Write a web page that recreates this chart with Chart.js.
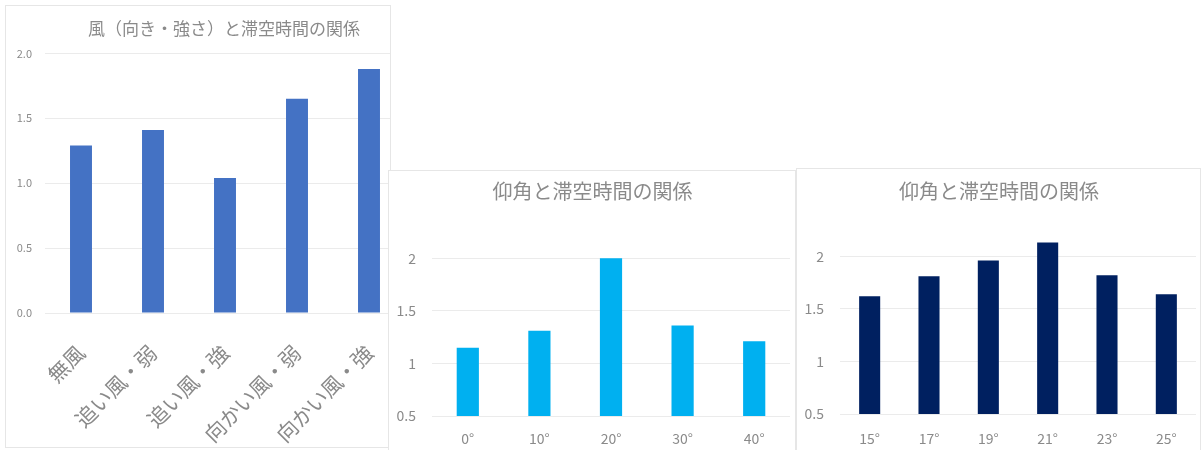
<!DOCTYPE html>
<html>
<head>
<meta charset="utf-8">
<script src="https://cdn.jsdelivr.net/npm/chart.js@4/dist/chart.umd.min.js"></script>
<style>
  html, body { margin: 0; padding: 0; background: #ffffff; }
  body { width: 1202px; height: 450px; position: relative; overflow: hidden; }
  .box { position: absolute; background: #ffffff; border: 1px solid #e6e6e6; box-sizing: border-box; overflow: hidden; }
  canvas { position: absolute; left: 0; top: 0; }
</style>
</head>
<body>
<div class="box" id="b1" style="left:5px; top:5px; width:386px; height:443px;"><canvas id="c1" width="436" height="442"></canvas></div>
<div class="box" id="b2" style="left:388px; top:170px; width:408px; height:285px;"><canvas id="c2" width="407" height="280"></canvas></div>
<div class="box" id="b3" style="left:796px; top:168px; width:405px; height:290px;"><canvas id="c3" width="404" height="282"></canvas></div>
<script>
// ---- data ----
const windLabels = ['無風', '追い風・弱', '追い風・強', '向かい風・弱', '向かい風・強'];
const windTimes = [1.29, 1.41, 1.04, 1.65, 1.88];

const angleLabelsA = ['0°', '10°', '20°', '30°', '40°'];
const angleTimesA = [1.15, 1.31, 2.0, 1.36, 1.21];

const angleLabelsB = ['15°', '17°', '19°', '21°', '23°', '25°'];
const angleTimesB = [1.62, 1.81, 1.96, 2.13, 1.82, 1.64];

const windTicks = [0, 0.5, 1.0, 1.5, 2.0];
const angleTicks = [0.5, 1, 1.5, 2];

const titleWind = '風（向き・強さ）と滞空時間の関係';
const titleAngle = '仰角と滞空時間の関係';

// ---- styles ----
const FONT = "'Noto Sans CJK JP', 'Noto Sans', sans-serif";
const TEXT = '#8a8a8a';
const GRID = '#ebebeb';

function makeChart(id, cfg) {
  const ctx = document.getElementById(id).getContext('2d');
  return new Chart(ctx, {
    type: 'bar',
    data: {
      labels: cfg.labels,
      datasets: [{
        data: cfg.values,
        backgroundColor: cfg.color,
        borderWidth: 0,
        categoryPercentage: 1,
        barPercentage: cfg.barPct
      }]
    },
    options: {
      responsive: false,
      animation: false,
      devicePixelRatio: 1,
      layout: { padding: { left: 0, right: 0, top: 0, bottom: 0 } },
      plugins: {
        legend: { display: false },
        tooltip: { enabled: false },
        title: {
          display: true,
          text: cfg.title,
          color: TEXT,
          font: { family: FONT, size: cfg.titleSize, weight: 'normal', lineHeight: 1.2 },
          padding: { top: cfg.titleTop, bottom: cfg.titleBottom }
        }
      },
      scales: {
        x: {
          grid: { display: false, drawTicks: false },
          border: { display: false },
          ticks: {
            color: TEXT,
            font: { family: FONT, size: cfg.xFont },
            padding: cfg.xPad,
            minRotation: cfg.rot,
            maxRotation: cfg.rot,
            autoSkip: false
          },
          afterFit: s => { s.height = cfg.xHeight; }
        },
        y: {
          min: cfg.min,
          max: cfg.max,
          grid: { color: GRID, drawTicks: false, lineWidth: 1 },
          border: { display: false },
          ticks: {
            color: TEXT,
            font: { family: FONT, size: cfg.yFont },
            padding: cfg.yPad,
            callback: v => cfg.fmt(v)
          },
          afterBuildTicks: axis => { axis.ticks = cfg.ticks.map(v => ({ value: v })); },
          afterFit: s => { s.width = cfg.yWidth; }
        },
        yRight: {
          type: 'linear',
          position: 'right',
          display: true,
          grid: { display: false, drawTicks: false },
          border: { display: false },
          ticks: { display: false },
          afterFit: s => { s.width = cfg.padRight; }
        }
      }
    }
  });
}

makeChart('c1', {
  labels: windLabels, values: windTimes, color: '#4472C4', barPct: 0.305,
  title: titleWind, titleSize: 17, titleTop: 12, titleBottom: 15,
  padRight: 37, xFont: 21, xPad: 27, rot: 45, xHeight: 135,
  min: 0, max: 2.0, ticks: windTicks, yFont: 11, yPad: 13, yWidth: 39,
  fmt: v => Number(v).toFixed(1)
});

makeChart('c2', {
  labels: angleLabelsA, values: angleTimesA, color: '#00B0F0', barPct: 0.31,
  title: titleAngle, titleSize: 20, titleTop: 8, titleBottom: 29,
  padRight: 6, xFont: 14, xPad: 14, rot: 0, xHeight: 35,
  min: 0.5, max: 2.25, ticks: angleTicks, yFont: 14, yPad: 16, yWidth: 43,
  fmt: v => String(v)
});

makeChart('c3', {
  labels: angleLabelsB, values: angleTimesB, color: '#002060', barPct: 0.355,
  title: titleAngle, titleSize: 20, titleTop: 10, titleBottom: 27,
  padRight: 5, xFont: 14, xPad: 16, rot: 0, xHeight: 37,
  min: 0.5, max: 2.25, ticks: angleTicks, yFont: 14, yPad: 16, yWidth: 43,
  fmt: v => String(v)
});
</script>
</body>
</html>
